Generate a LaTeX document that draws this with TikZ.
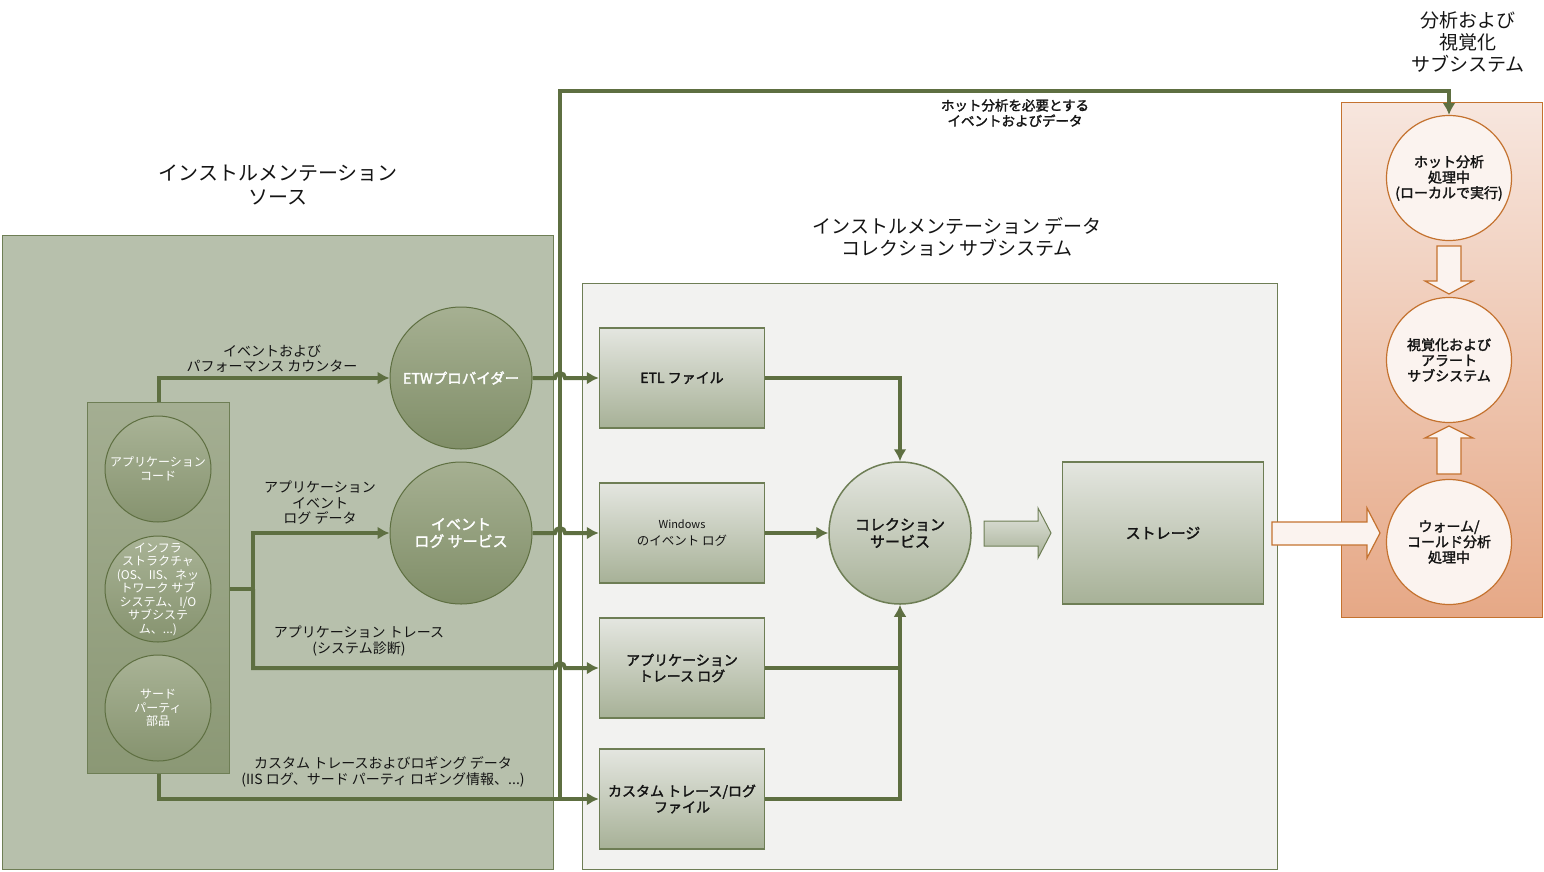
\documentclass[tikz,border=0pt]{standalone}
\usepackage{fontspec}
\setmainfont{Noto Sans CJK JP}[AutoFakeBold=2]
\usetikzlibrary{arrows.meta, positioning}

\definecolor{leaf}{HTML}{5E6F41}
\definecolor{grpline}{HTML}{6E7E55}
\definecolor{srcbg}{HTML}{B7C0AC}
\definecolor{colTop}{HTML}{A4AE92}
\definecolor{colBot}{HTML}{8B9875}
\definecolor{ballTop}{HTML}{A9B396}
\definecolor{ballBot}{HTML}{86936F}
\definecolor{provTop}{HTML}{A6B092}
\definecolor{provBot}{HTML}{808E68}
\definecolor{collbg}{HTML}{F2F2F0}
\definecolor{boxTop}{HTML}{E4E6E0}
\definecolor{boxBot}{HTML}{A7B197}
\definecolor{anaTop}{HTML}{F7E6DE}
\definecolor{anaBot}{HTML}{E6A886}
\definecolor{rust}{HTML}{C4722F}
\definecolor{anafill}{HTML}{FBF3EF}
\definecolor{ink}{HTML}{141414}

\begin{document}
\begin{tikzpicture}[x=1pt, y=-1pt, >={Latex[length=12pt,width=13pt]},
    flow/.style = {draw=leaf, line width=4pt, ->},
    wire/.style = {draw=leaf, line width=4pt},
    lbl/.style = {text=ink, align=center, inner sep=0pt, font=\fontsize{14}{15.5}\selectfont},
    ttl/.style = {text=ink, align=center, inner sep=0pt, font=\fontsize{19}{22}\selectfont},
    srcball/.style = {circle, draw=leaf, line width=1pt, top color=ballTop, bottom color=ballBot,
                      minimum size=106pt, inner sep=0pt, align=center, text=white,
                      font=\fontsize{12}{13.5}\selectfont},
    srctext/.style = {inner sep=0pt, align=center, text=white, font=\fontsize{12}{13.5}\selectfont},
    provball/.style = {circle, draw=leaf, line width=1pt, top color=provTop, bottom color=provBot,
                       minimum size=142pt, inner sep=0pt, align=center, text=white,
                       font=\bfseries\fontsize{14.5}{16}\selectfont},
    filebox/.style = {draw=grpline, line width=1.5pt, top color=boxTop, bottom color=boxBot,
                      minimum width=165pt, minimum height=100pt, inner sep=0pt, align=center,
                      text=ink, font=\bfseries\fontsize{14}{16}\selectfont},
    anaball/.style = {circle, draw=rust, line width=1.2pt, fill=anafill, minimum size=125pt,
                      inner sep=0pt, align=center, text=ink, font=\bfseries\fontsize{14}{15.5}\selectfont},
    fatleaf/.style = {draw=grpline, line width=1pt, top color=boxTop, bottom color=boxBot},
    fatrust/.style = {draw=rust, line width=1.2pt, fill=anafill}
   ]

    \useasboundingbox (0,0) rectangle (1544,871);

    % groups
    \node[draw=grpline, line width=1.2pt, fill=srcbg, minimum width=551pt, minimum height=634pt,
          anchor=north west, inner sep=0pt] (srcgrp) at (2,235) {};
    \node[draw=grpline, line width=1.2pt, fill=collbg, minimum width=695pt, minimum height=586pt,
          anchor=north west, inner sep=0pt] (collgrp) at (582,283) {};
    \node[draw=rust, line width=1.2pt, top color=anaTop, bottom color=anaBot, minimum width=201pt,
          minimum height=515pt, anchor=north west, inner sep=0pt] (anagrp) at (1341,102) {};

    \node[ttl, font=\fontsize{20}{24}\selectfont] (srctitle) at (278,185) {インストルメンテーション\\ソース};
    \node[ttl] (colltitle) at (957,237) {インストルメンテーション データ\\コレクション サブシステム};
    \node[ttl] (anatitle) at (1468,42) {分析および\\視覚化\\サブシステム};

    % sources
    \node[draw=grpline, line width=1pt, top color=colTop, bottom color=colBot, minimum width=142pt,
          minimum height=371pt, anchor=north west, inner sep=0pt] (col) at (87,402) {};
    \node[srcball] (appcode) at (158,469) {アプリケーション\\コード};
    \node[srcball] (infra) at (158,589) {};
    \node[srctext] at (infra) {インフラ\\ストラクチャ\\(OS、IIS、ネッ\\トワーク サブ\\システム、I/O\\サブシステ\\ム、...)};
    \node[srcball] (thirdp) at (158,708) {サード\\パーティ\\部品};

    \node[provball] (etw) at (461,378) {ETWプロバイダー};
    \node[provball, font=\bfseries\fontsize{15}{17}\selectfont] (evsvc) at (461,533) {イベント\\ログ サービス};

    % collection
    \node[filebox] (etl) at (682,378) {ETL ファイル};
    \node[filebox, font=\fontsize{12.5}{17}\selectfont] (winlog) at (682,533) {{\fontsize{11}{13}\selectfont Windows}\\のイベント ログ};
    \node[filebox] (trlog) at (682,668) {アプリケーション\\トレース ログ};
    \node[filebox] (cstlog) at (682,799) {カスタム トレース/ログ\\ファイル};
    \node[circle, draw=grpline, line width=1.5pt, top color=boxTop, bottom color=boxBot, minimum size=142pt,
          inner sep=0pt, align=center, text=ink, font=\bfseries\fontsize{15}{17}\selectfont] (collsvc) at (900,533) {コレクション\\サービス};
    \node[filebox, minimum width=201pt, minimum height=142pt, font=\bfseries\fontsize{15}{17}\selectfont] (store) at (1163,533) {ストレージ};

    % analysis
    \node[anaball] (hot) at (1449,178) {ホット分析\\処理中\\(ローカルで実行)};
    \node[anaball] (viz) at (1449,360) {視覚化および\\アラート\\サブシステム};
    \node[anaball] (warm) at (1449,542) {ウォーム/\\コールド分析\\処理中};

    % hot path
    \coordinate (hotbase) at (560,799);
    \coordinate (hottop) at (560,91);
    \draw[flow] (hotbase) -- (hottop) -| (hot.north);
    \node[lbl, font=\bfseries\fontsize{13.5}{15.5}\selectfont] (lblhot) at (1015,113) {ホット分析を必要とする\\イベントおよびデータ};

    % source flows
    \coordinate (split) at (253,589);
    \draw[flow] (col.north) |- (etw.west);
    \draw[wire] (col.east |- split) -- (split);
    \draw[flow] (split) |- (555,668) arc[start angle=180, end angle=0, radius=5pt] -- (trlog.west);
    \draw[flow] (split) |- (evsvc.west);
    \draw[flow] (col.south) |- (cstlog.west);
    \draw[flow] (etw.east) -- (555,378) arc[start angle=180, end angle=0, radius=5pt] -- (etl.west);
    \draw[flow] (evsvc.east) -- (555,533) arc[start angle=180, end angle=0, radius=5pt] -- (winlog.west);

    \node[lbl, anchor=south] (lblperf) at (272,373) {イベントおよび\\パフォーマンス カウンター};
    \node[lbl] (lblevt) at (320,503) {アプリケーション\\イベント\\ログ データ};
    \node[lbl] (lbltrace) at (359,641) {アプリケーション トレース\\(システム診断)};
    \node[lbl] (lblcust) at (383,772) {カスタム トレースおよびロギング データ\\(IIS ログ、サード パーティ ロギング情報、...)};

    % into collection service
    \draw[flow] (etl.east) -| (collsvc.north);
    \draw[flow] (winlog.east) -- (collsvc.west);
    \draw[wire] (trlog.east) -- (trlog.east -| collsvc);
    \draw[flow] (cstlog.east) -| (collsvc.south);

    % block arrows
    \draw[fatleaf] (984,521) -- (1038,521) -- (1038,508) -- (1051,533) -- (1038,558) -- (1038,546) -- (984,546) -- cycle;
    \draw[fatrust] (1272,522) -- (1367,522) -- (1367,508) -- (1380,533) -- (1367,558) -- (1367,545) -- (1272,545) -- cycle;
    \draw[fatrust] (1437,246) -- (1461,246) -- (1461,281) -- (1473,281) -- (1449,294) -- (1425,281) -- (1437,281) -- cycle;
    \draw[fatrust] (1437,474) -- (1461,474) -- (1461,438) -- (1473,438) -- (1449,426) -- (1425,438) -- (1437,438) -- cycle;

\end{tikzpicture}
\end{document}
